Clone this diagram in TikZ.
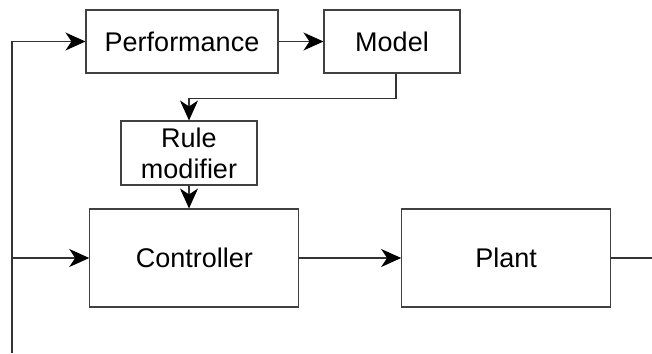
\documentclass[tikz,border=0pt]{standalone}
\usepackage{fontspec}
\setmainfont{Liberation Sans}
\usetikzlibrary{arrows.meta}
\begin{document}
\begin{tikzpicture}[x=1pt,y=-1pt,
  blk/.style={draw=black!75, line width=1.1pt, rectangle, inner sep=0pt, align=center,
    font=\fontsize{27}{31}\selectfont},
  conn/.style={draw=black!80, line width=1.1pt},
  arr/.style={conn, -{Stealth[length=20pt,width=18pt,inset=6pt,black]}}]
\useasboundingbox (0,0) rectangle (652,353);
\node[blk, minimum width=192pt, minimum height=63pt] (perf) at (182,41.5) {Performance};
\node[blk, minimum width=136pt, minimum height=63pt] (model) at (392,41.5) {Model};
\node[blk, minimum width=136pt, minimum height=64pt] (rule) at (189,153) {Rule\\modifier};
\node[blk, minimum width=209pt, minimum height=98pt] (ctrl) at (194.3,258) {Controller};
\node[blk, minimum width=209pt, minimum height=98pt] (plant) at (506.2,258) {Plant};
\coordinate (bot) at (12,353);
\coordinate (top) at (12,41.5);
\coordinate (mid) at (12,258);
\coordinate (out) at (652,258);
\draw[conn] (bot) -- (top);
\draw[arr] (top) -- (perf.west);
\draw[arr] (mid) -- (ctrl.west);
\draw[arr] (perf.east) -- (model.west);
\draw[arr] ([xshift=4pt]model.south) -- ++(0,24.5) -| (rule.north);
\draw[arr] (rule.south) -- (rule.south |- ctrl.north);
\draw[arr] (ctrl.east) -- (plant.west);
\draw[conn] (plant.east) -- (out);
\end{tikzpicture}
\end{document}
